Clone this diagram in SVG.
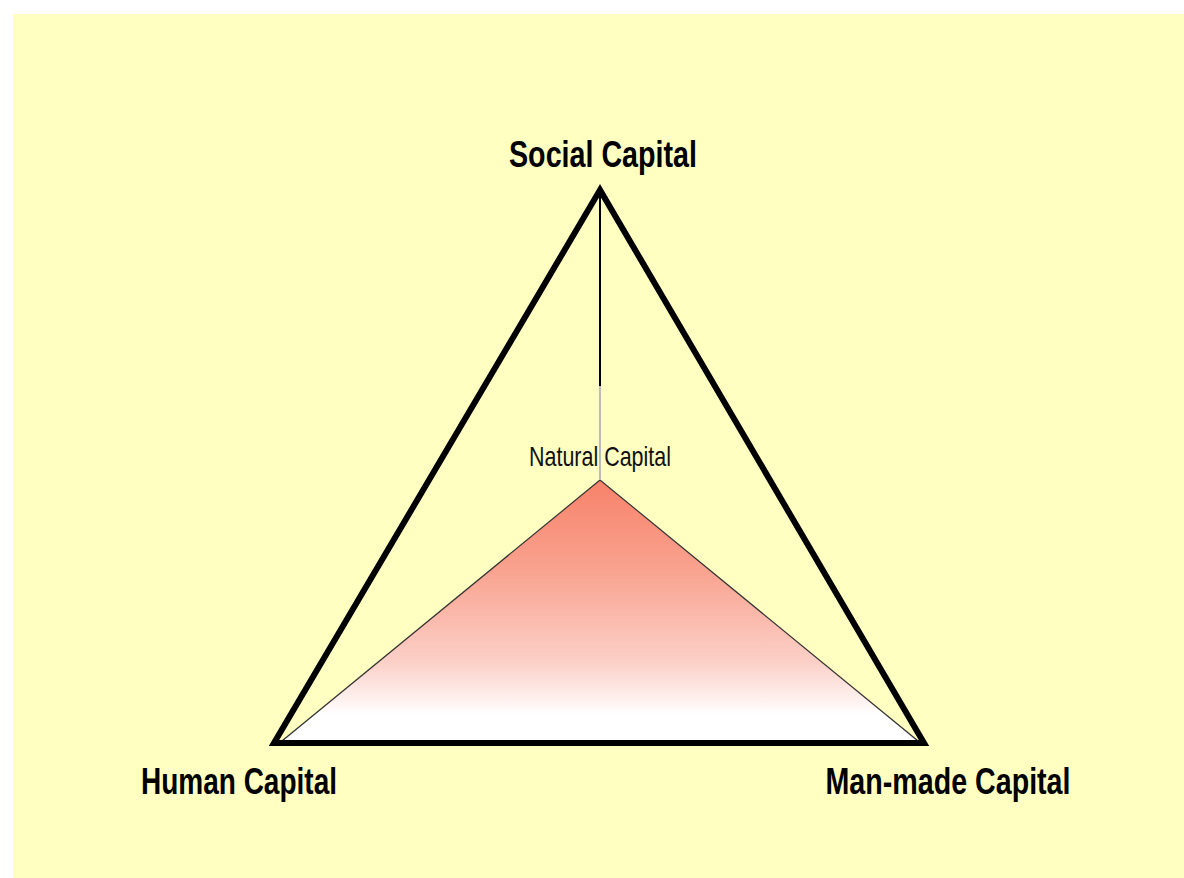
<svg xmlns="http://www.w3.org/2000/svg" width="1184" height="878" viewBox="0 0 1184 878">
<defs>
<linearGradient id="nat" gradientUnits="userSpaceOnUse" x1="0" y1="480" x2="0" y2="741">
<stop offset="0" stop-color="#F7826A"/>
<stop offset="0.35" stop-color="#F9A390"/>
<stop offset="0.7" stop-color="#FCD0C8"/>
<stop offset="0.9" stop-color="#FFFFFF"/>
<stop offset="1" stop-color="#FFFFFF"/>
</linearGradient>
</defs>
<style>
.lbl{font-family:"Liberation Sans Narrow","Liberation Sans",Arial,sans-serif;font-weight:bold;font-size:37px;fill:#000}
.nat{font-family:"Liberation Sans Narrow","Liberation Sans",Arial,sans-serif;font-size:28px;fill:#111}
</style>
<rect x="0" y="0" width="1184" height="878" fill="#FFFFFF"/>
<rect x="13" y="14" width="1171" height="864" fill="#FFFFC2"/>
<g id="natural-capital">
<polygon points="600,480 282,741 918,741" fill="url(#nat)" stroke="#333" stroke-width="1.2"/>
<text class="nat" x="600" y="466" text-anchor="middle" textLength="142" lengthAdjust="spacingAndGlyphs">Natural Capital</text>
</g>
<g id="connectors">
<line x1="600" y1="192" x2="600" y2="386" stroke="#000" stroke-width="2"/>
<line x1="600" y1="386" x2="600" y2="480" stroke="#BBBBBB" stroke-width="2"/>
</g>
<g id="outer-triangle">
<polygon points="600,190 274,743 924,743" fill="none" stroke="#000" stroke-width="6" stroke-linejoin="miter"/>
</g>
<g id="social-capital">
<text class="lbl" x="603" y="167" text-anchor="middle" textLength="188" lengthAdjust="spacingAndGlyphs">Social Capital</text>
</g>
<g id="human-capital">
<text class="lbl" x="239" y="794" text-anchor="middle" textLength="196" lengthAdjust="spacingAndGlyphs">Human Capital</text>
</g>
<g id="man-made-capital">
<text class="lbl" x="948" y="794" text-anchor="middle" textLength="245" lengthAdjust="spacingAndGlyphs">Man-made Capital</text>
</g>
</svg>
